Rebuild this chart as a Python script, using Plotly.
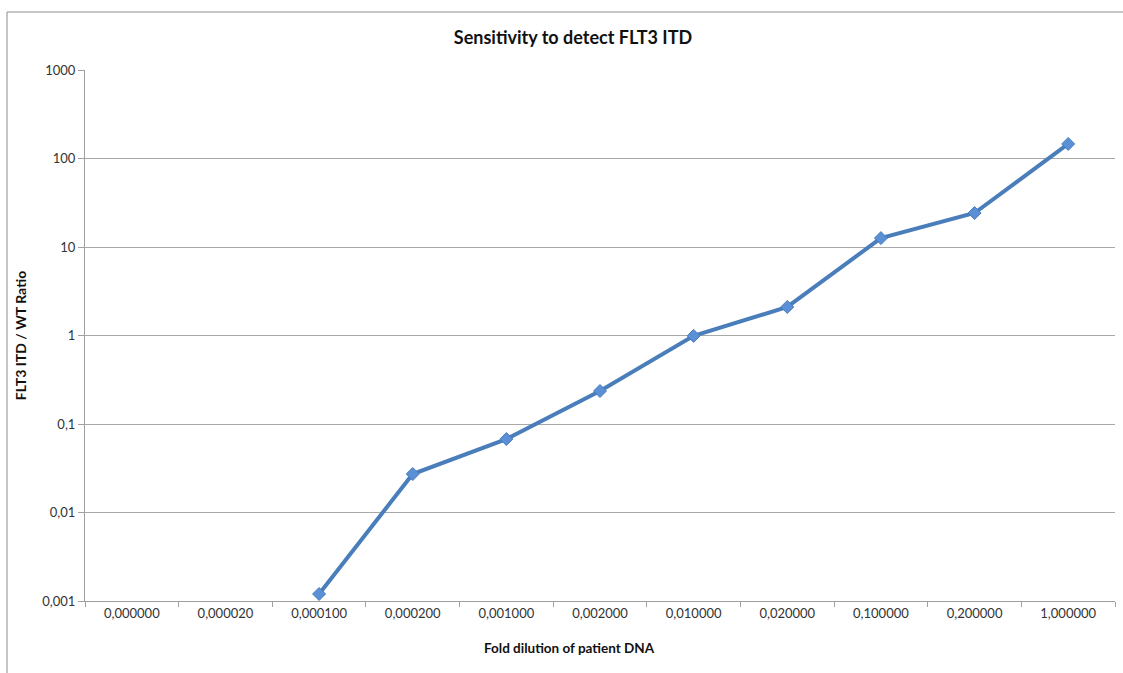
import plotly.graph_objects as go

categories = ["0,000000", "0,000020", "0,000100", "0,000200", "0,001000", "0,002000",
              "0,010000", "0,020000", "0,100000", "0,200000", "1,000000"]
ratio = [None, None, 0.0012, 0.0272, 0.0676, 0.236, 0.99, 2.1, 12.6, 24.2, 146]
ytick_vals = [0.001, 0.01, 0.1, 1, 10, 100, 1000]
ytick_text = ["0,001", "0,01", "0,1", "1", "10", "100", "1000"]

W, H = 1123, 673
L, R, T, B = 85, 8, 70, 72
pw, ph = W - L - R, H - T - B

def px_x(x):
    return (x - L) / pw

def px_y(y):
    return (H - B - y) / ph

fig = go.Figure()
fig.add_trace(go.Scatter(
    x=categories, y=ratio, mode="lines+markers",
    line=dict(color="#4A7EBB", width=4),
    marker=dict(symbol="diamond", size=10, color="#5B8FD6",
                line=dict(color="#4A7EBB", width=1)),
    connectgaps=False, showlegend=False,
))

fig.update_layout(
    width=W, height=H,
    margin=dict(l=L, r=R, t=T, b=B),
    paper_bgcolor="white", plot_bgcolor="white",
    font=dict(family="Lato, Carlito, 'Open Sans', sans-serif", color="#333333", size=13),
    title=dict(text="<b>Sensitivity to detect FLT3 ITD</b>", x=573 / W, xanchor="center",
               y=1 - 38 / H, yanchor="middle", font=dict(size=18, color="#111111")),
    xaxis=dict(
        type="category", categoryorder="array", categoryarray=categories,
        range=[-0.5, 10.5], showgrid=False, showline=True, linecolor="#A0A0A0", linewidth=1,
        ticks="outside", tickson="boundaries", ticklen=5, tickcolor="#A0A0A0",
        tickfont=dict(size=13, color="#333333"),
        zeroline=False,
    ),
    yaxis=dict(
        type="log", range=[-3, 3], tickvals=ytick_vals, ticktext=ytick_text,
        showgrid=True, gridcolor="#A8A8A8", gridwidth=1,
        showline=True, linecolor="#A0A0A0", linewidth=1,
        ticks="outside", ticklen=6, tickcolor="#A0A0A0",
        tickfont=dict(size=13, color="#333333"),
        title=dict(text="<b>FLT3 ITD / WT Ratio</b>", font=dict(size=14, color="#111111"),
                   standoff=12),
        zeroline=False,
    ),
    annotations=[
        dict(text="<b>Fold dilution of patient DNA</b>", xref="paper", yref="paper",
             x=px_x(569), y=px_y(648), xanchor="center", yanchor="middle",
             showarrow=False, font=dict(size=13.5, color="#111111")),
    ],
    shapes=[
        dict(type="line", xref="paper", yref="paper", x0=px_x(7), x1=px_x(7),
             y0=px_y(12), y1=px_y(700), line=dict(color="#8C8C8C", width=1)),
        dict(type="line", xref="paper", yref="paper", x0=px_x(7), x1=px_x(1130),
             y0=px_y(12), y1=px_y(12), line=dict(color="#8C8C8C", width=1)),
    ],
)

fig.write_html("out.html", config={"displayModeBar": False})

with open("out.html", "r", encoding="utf-8") as f:
    html = f.read()
html = html.replace("<head>", "<head><style>html,body{margin:0;padding:0;overflow:hidden;}</style>", 1)
with open("out.html", "w", encoding="utf-8") as f:
    f.write(html)
